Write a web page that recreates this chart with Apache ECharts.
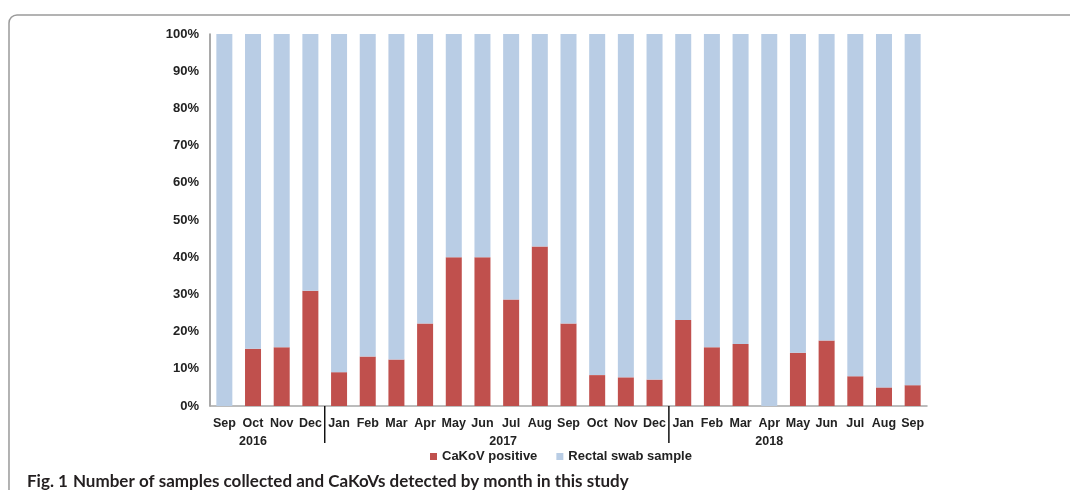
<!DOCTYPE html>
<html>
<head>
<meta charset="utf-8">
<script src="https://cdn.jsdelivr.net/npm/echarts@6/dist/echarts.min.js"></script>
<style>
  html, body { margin: 0; padding: 0; background: #fff; }
  #chart { width: 1070px; height: 490px; }
</style>
</head>
<body>
<div id="chart"></div>
<script>
const months = ['Sep', 'Oct', 'Nov', 'Dec', 'Jan', 'Feb', 'Mar', 'Apr', 'May', 'Jun', 'Jul', 'Aug',
  'Sep', 'Oct', 'Nov', 'Dec', 'Jan', 'Feb', 'Mar', 'Apr', 'May', 'Jun', 'Jul', 'Aug', 'Sep']
// year label shown under one month of each group
const yearLabels = { 1: '2016', 10: '2017', 19: '2018' }
// first month of a new year -> divider drawn before it
const yearSplits = [4, 16]

// share of samples (%)
const positive = [0, 15.4, 15.8, 31.0, 9.1, 13.3, 12.5, 22.2, 40.0, 40.0, 28.6, 42.9,
  22.2, 8.3, 7.7, 7.1, 23.1, 15.8, 16.7, 0, 14.3, 17.6, 8.0, 5.0, 5.6]
const swab = [100, 84.6, 84.2, 69.0, 90.9, 86.7, 87.5, 77.8, 60.0, 60.0, 71.4, 57.1,
  77.8, 91.7, 92.3, 92.9, 76.9, 84.2, 83.3, 100, 85.7, 82.4, 92.0, 95.0, 94.4]

const font = '"Liberation Sans", Arial, sans-serif'
const chart = echarts.init(document.getElementById('chart'))

chart.setOption({
  backgroundColor: '#fff',
  animation: false,
  title: {
    left: 22,
    top: 468,
    text: '{b|Fig. 1} {n|Number of samples collected and CaKoVs detected by month in this study}',
    textStyle: {
      rich: {
        b: { fontFamily: 'Lato, sans-serif', fontWeight: 'bold', fontSize: 17, color: '#231f20' },
        n: { fontFamily: 'Lato, sans-serif', fontSize: 17, color: '#231f20' }
      }
    }
  },
  graphic: [
    {
      type: 'rect',
      z: -1,
      shape: { x: 9, y: 15, width: 1200, height: 600, r: 8 },
      style: { fill: 'none', stroke: '#9a9a9a', lineWidth: 1.5 }
    }
  ],
  legend: {
    left: 425,
    top: 445,
    itemWidth: 7,
    itemHeight: 7,
    itemGap: 19,
    icon: 'rect',
    textStyle: { fontFamily: font, fontWeight: 'bold', fontSize: 13, color: '#222' },
    data: ['CaKoV positive', 'Rectal swab sample']
  },
  grid: {
    left: 210,
    right: 143,
    top: 34,
    bottom: 84
  },
  xAxis: [
    {
      type: 'category',
      data: months,
      axisLine: { lineStyle: { color: '#a6a6a6', width: 1.5 } },
      axisTick: { show: false },
      axisLabel: {
        interval: 0,
        margin: 11,
        fontFamily: font,
        fontWeight: 'bold',
        fontSize: 12.5,
        color: '#222'
      }
    },
    {
      type: 'category',
      position: 'bottom',
      data: months,
      axisLine: { show: false },
      axisTick: { show: false },
      axisLabel: {
        interval: 0,
        margin: 29,
        formatter: (value, index) => {
          if (!yearLabels[index]) return ''
          return index === 10 ? '{s|' + yearLabels[index] + '}' : yearLabels[index]
        },
        fontFamily: font,
        fontWeight: 'bold',
        fontSize: 12.5,
        color: '#222',
        rich: {
          s: { fontFamily: font, fontWeight: 'bold', fontSize: 12.5, color: '#222', padding: [0, 16, 8, 0] }
        }
      }
    }
  ],
  yAxis: {
    type: 'value',
    min: 0,
    max: 100,
    interval: 10,
    axisLine: { show: true, lineStyle: { color: '#8c8c8c', width: 1.5 } },
    axisTick: { show: false },
    splitLine: { show: false },
    axisLabel: {
      margin: 11,
      fontFamily: font,
      fontWeight: 'bold',
      fontSize: 13,
      color: '#222',
      formatter: '{value}%'
    }
  },
  series: [
    {
      name: 'CaKoV positive',
      type: 'bar',
      stack: 'share',
      barWidth: 16,
      itemStyle: { color: '#c0504d' },
      data: positive
    },
    {
      name: 'Rectal swab sample',
      type: 'bar',
      stack: 'share',
      barWidth: 16,
      itemStyle: { color: '#b9cde5' },
      data: swab
    },
    {
      // year dividers below the axis, between Dec and Jan
      type: 'custom',
      clip: false,
      silent: true,
      data: yearSplits.map(i => [i, 0]),
      renderItem: (params, api) => {
        const prev = api.coord([api.value(0) - 1, 0])
        const cur = api.coord([api.value(0), 0])
        const x = (prev[0] + cur[0]) / 2
        return {
          type: 'line',
          shape: { x1: x, y1: cur[1], x2: x, y2: cur[1] + 37 },
          style: { stroke: '#111', lineWidth: 1.5 }
        }
      }
    }
  ]
})
</script>
</body>
</html>
